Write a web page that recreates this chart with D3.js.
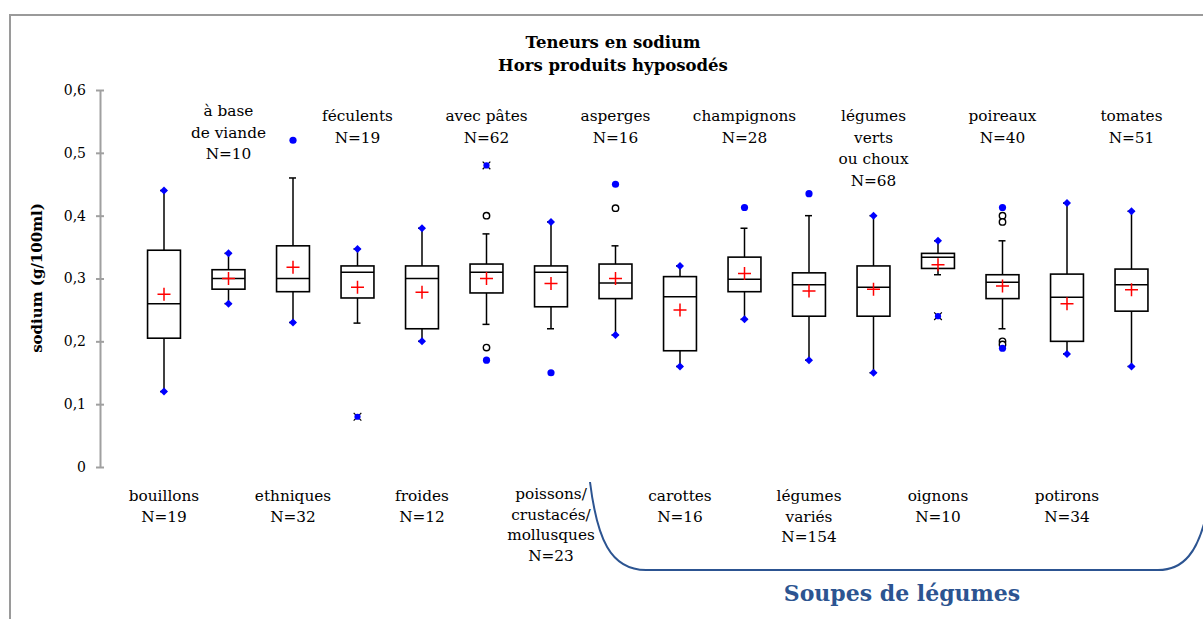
<!DOCTYPE html>
<html>
<head>
<meta charset="utf-8">
<script src="https://d3js.org/d3.v7.min.js"></script>
<style>
  html, body { margin: 0; padding: 0; background: #fff; }
  svg { display: block; }
</style>
</head>
<body>
<div id="container"></div>
<script>
// catégories (ordre de gauche à droite)
const categories = ["bouillons", "à base de viande", "ethniques", "féculents", "froides", "avec pâtes",
  "poissons crustacés mollusques", "asperges", "carottes", "champignons", "légumes variés",
  "légumes verts ou choux", "oignons", "poireaux", "potirons", "tomates"];
const labelLines = [["bouillons"], ["à base", "de viande"], ["ethniques"], ["féculents"], ["froides"],
  ["avec pâtes"], ["poissons/", "crustacés/", "mollusques"], ["asperges"], ["carottes"], ["champignons"],
  ["légumes", "variés"], ["légumes", "verts", "ou choux"], ["oignons"], ["poireaux"], ["potirons"], ["tomates"]];
const counts = [19, 10, 32, 19, 12, 62, 23, 16, 16, 28, 154, 68, 10, 40, 34, 51];

// statistiques (g/100ml)
const minVal    = [0.12, 0.26, 0.23, 0.08, 0.20, 0.17, 0.15, 0.21, 0.16, 0.235, 0.17, 0.15, 0.24, 0.189, 0.18, 0.16];
const whiskLow  = [0.12, 0.26, 0.23, 0.229, 0.20, 0.227, 0.22, 0.21, 0.16, 0.235, 0.17, 0.15, 0.306, 0.22, 0.18, 0.16];
const q1        = [0.205, 0.283, 0.279, 0.269, 0.22, 0.277, 0.255, 0.268, 0.185, 0.279, 0.24, 0.24, 0.316, 0.268, 0.20, 0.248];
const median    = [0.26, 0.30, 0.30, 0.31, 0.30, 0.31, 0.31, 0.293, 0.271, 0.299, 0.29, 0.286, 0.334, 0.294, 0.27, 0.29];
const q3        = [0.345, 0.314, 0.352, 0.32, 0.32, 0.323, 0.32, 0.323, 0.303, 0.334, 0.309, 0.32, 0.34, 0.306, 0.307, 0.315];
const whiskHigh = [0.44, 0.34, 0.46, 0.347, 0.38, 0.371, 0.39, 0.352, 0.32, 0.38, 0.40, 0.40, 0.36, 0.36, 0.42, 0.407];
const maxVal    = [0.44, 0.34, 0.52, 0.347, 0.38, 0.48, 0.39, 0.45, 0.32, 0.413, 0.435, 0.40, 0.36, 0.413, 0.42, 0.407];
const mean      = [0.275, 0.30, 0.318, 0.286, 0.278, 0.30, 0.292, 0.30, 0.25, 0.308, 0.28, 0.283, 0.322, 0.288, 0.26, 0.282];
const otherOutliers = [[], [], [], [], [], [0.40, 0.19], [], [0.412], [], [], [], [], [], [0.40, 0.39, 0.20, 0.195], [], []];

const yTicks = [0, 0.1, 0.2, 0.3, 0.4, 0.5, 0.6];

const width = 1203, height = 619;
const serif = "'DejaVu Serif', serif";
const blue = "#0000ff";
const navy = "#2c5491";

const svg = d3.select('#container').append('svg')
  .attr('width', width).attr('height', height);

// cadre gris
svg.append('path')
  .attr('d', `M10,${height} L10,15 L${width},15`)
  .attr('fill', 'none').attr('stroke', '#9a9a9a').attr('stroke-width', 2);

// titre
const title = svg.append('text')
  .attr('text-anchor', 'middle')
  .attr('font-family', serif).attr('font-weight', 'bold').attr('font-size', 16.5)
  .attr('fill', '#000');
title.append('tspan').attr('x', 613).attr('y', 48).text('Teneurs en sodium');
title.append('tspan').attr('x', 613).attr('y', 71).text('Hors produits hyposodés');

// échelles
const x = d3.scaleBand().domain(categories).range([131.75, 1163.75]).padding(0);
const y = d3.scaleLinear().domain([0, 0.6]).range([467, 90]);
const boxW = x.bandwidth() * 0.51;
const cx = c => x(c) + x.bandwidth() / 2;

// axe Y
const yAxis = d3.axisLeft(y).tickValues(yTicks)
  .tickFormat(d => d3.format('.1f')(d).replace('.', ',').replace(/^0,0$/, '0'))
  .tickSizeInner(4).tickSizeOuter(0).tickPadding(10);
const gy = svg.append('g').attr('transform', 'translate(100,0)').call(yAxis);
gy.select('.domain').attr('stroke', '#a0a0a0').attr('stroke-width', 2);
gy.selectAll('.tick line').attr('stroke', '#a0a0a0').attr('stroke-width', 2).attr('x1', 4).attr('x2', -4);
gy.selectAll('.tick text')
  .attr('font-family', serif).attr('font-size', 14).attr('fill', '#000')
  .attr('x', -14);

svg.append('text')
  .attr('transform', 'translate(42,278) rotate(-90)')
  .attr('text-anchor', 'middle')
  .attr('font-family', serif).attr('font-weight', 'bold').attr('font-size', 15)
  .text('sodium (g/100ml)');

// boîtes
const rows = categories.map((c, i) => ({
  c, i, min: minVal[i], lo: whiskLow[i], q1: q1[i], med: median[i], q3: q3[i],
  hi: whiskHigh[i], max: maxVal[i], mean: mean[i], out: otherOutliers[i]
}));

const g = svg.append('g');
const box = g.selectAll('g.box').data(rows).join('g').attr('class', 'box');

// moustaches
box.append('line')
  .attr('x1', d => cx(d.c)).attr('x2', d => cx(d.c))
  .attr('y1', d => y(d.lo)).attr('y2', d => y(d.q1))
  .attr('stroke', '#000').attr('stroke-width', 1.5);
box.append('line')
  .attr('x1', d => cx(d.c)).attr('x2', d => cx(d.c))
  .attr('y1', d => y(d.q3)).attr('y2', d => y(d.hi))
  .attr('stroke', '#000').attr('stroke-width', 1.5);
['lo', 'hi'].forEach(k => {
  box.append('line')
    .attr('x1', d => cx(d.c) - 4).attr('x2', d => cx(d.c) + 3)
    .attr('y1', d => y(d[k])).attr('y2', d => y(d[k]))
    .attr('stroke', '#000').attr('stroke-width', 1.5);
});

// boîte + médiane
box.append('rect')
  .attr('x', d => cx(d.c) - boxW / 2).attr('width', boxW)
  .attr('y', d => y(d.q3)).attr('height', d => y(d.q1) - y(d.q3))
  .attr('fill', '#fff').attr('stroke', '#000').attr('stroke-width', 1.6);
box.append('line')
  .attr('x1', d => cx(d.c) - boxW / 2).attr('x2', d => cx(d.c) + boxW / 2)
  .attr('y1', d => y(d.med)).attr('y2', d => y(d.med))
  .attr('stroke', '#000').attr('stroke-width', 1.5);

// moyenne
box.append('path')
  .attr('d', d => `M${cx(d.c) - 6.5},${y(d.mean)}H${cx(d.c) + 6.5}M${cx(d.c)},${y(d.mean) - 6.5}V${y(d.mean) + 6.5}`)
  .attr('stroke', '#ff0000').attr('stroke-width', 1.5).attr('fill', 'none');

// valeurs atypiques (cercles ouverts)
box.selectAll('circle.out').data(d => d.out.map(v => ({ c: d.c, v }))).join('circle')
  .attr('class', 'out')
  .attr('cx', d => cx(d.c)).attr('cy', d => y(d.v)).attr('r', 3.2)
  .attr('fill', '#fff').attr('stroke', '#000').attr('stroke-width', 1.4);

// minimum / maximum en bleu
function extremeKind(d, k) {
  const v = d[k], w = k === 'min' ? d.lo : d.hi;
  if (v === w) return 'diamond';
  const iqr = d.q3 - d.q1;
  const far = k === 'min' ? v < d.q1 - 3 * iqr : v > d.q3 + 3 * iqr;
  return far ? 'star' : 'dot';
}
const ext = rows.flatMap(d => ['min', 'max'].map(k => ({ c: d.c, v: d[k], kind: extremeKind(d, k) })));
const em = g.selectAll('g.ext').data(ext).join('g').attr('class', 'ext')
  .attr('transform', d => `translate(${cx(d.c)},${y(d.v)})`);
em.filter(d => d.kind === 'diamond').append('path')
  .attr('d', 'M0,-4L4,0L0,4L-4,0Z').attr('fill', blue);
em.filter(d => d.kind === 'dot').append('circle')
  .attr('r', 3.6).attr('fill', blue);
em.filter(d => d.kind === 'star').append('path')
  .attr('d', d3.symbol(d3.symbolX, 40)()).attr('stroke', '#000').attr('stroke-width', 1.2);
em.filter(d => d.kind === 'star').append('circle')
  .attr('r', 3.1).attr('fill', blue);

// étiquettes (alternées haut / bas)
const lab = svg.append('g')
  .attr('font-family', serif).attr('font-size', 15.3).attr('text-anchor', 'middle').attr('fill', '#000');
rows.forEach(d => {
  const lines = labelLines[d.i].concat([`N=${counts[d.i]}`]);
  const top = d.i % 2 === 1;
  const y0 = top ? (d.i === 1 ? 116 : 121) : (d.i === 6 ? 499 : 501);
  const step = top ? 21.5 : 20.6;
  const t = lab.append('text');
  lines.forEach((s, j) => t.append('tspan').attr('x', cx(d.c)).attr('y', y0 + j * step).text(s));
});

// accolade "Soupes de légumes"
svg.append('path')
  .attr('d', 'M590,482 C597,538 610,570 646,570 L1158,570 C1184,570 1198,552 1207,512')
  .attr('fill', 'none').attr('stroke', navy).attr('stroke-width', 2);
svg.append('text')
  .attr('x', 902).attr('y', 601)
  .attr('text-anchor', 'middle')
  .attr('font-family', serif).attr('font-weight', 'bold').attr('font-size', 22)
  .attr('fill', navy)
  .text('Soupes de légumes');
</script>
</body>
</html>
